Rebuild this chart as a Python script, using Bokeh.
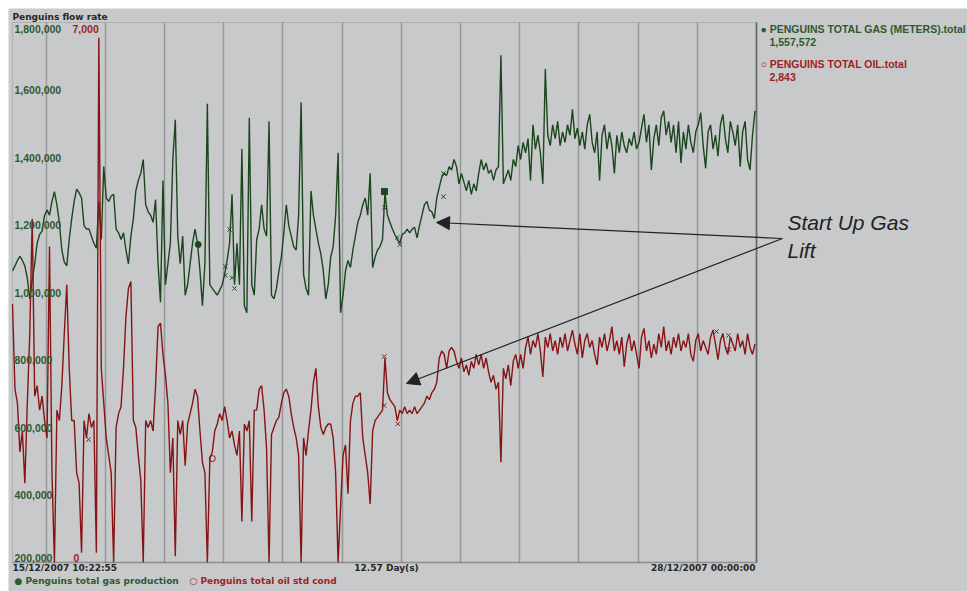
from datetime import datetime, timedelta
from bokeh.plotting import figure
from bokeh.models import Range1d, DaysTicker, Label, Arrow, NormalHead, BoxAnnotation
from bokeh.core.properties import value
from bokeh.embed import file_html
from bokeh.resources import INLINE

# ---------------- data ----------------
start_time = datetime(2007, 12, 15, 10, 22, 55)
end_time = datetime(2007, 12, 28, 0, 0, 0)
sample_hours = 1.0  # one reading per hour

# Penguins total gas (thousand m3/d), hourly
gas_k = [
    1064, 1079, 1095, 1107, 1095, 1079, 1043, 981, 1038, 1085,
    1146, 1172, 1182, 1229, 1244, 1229, 1270, 1299, 1260, 1208,
    1126, 1090, 1079, 1157, 1219, 1270, 1306, 1296, 1280, 1198,
    1188, 1188, 1167, 1146, 1131, 1270, 1157, 1373, 1280, 1270,
    1286, 1291, 1188, 1177, 1157, 1177, 1126, 1085, 1167, 1219,
    1301, 1332, 1353, 1394, 1260, 1239, 1229, 1208, 1275, 1085,
    971, 1332, 1023, 1085, 1146, 1394, 1512, 1167, 1085, 1167,
    992, 1023, 1085, 1146, 1188, 1146, 1064, 961, 1085, 1559,
    1023, 1012, 1002, 992, 1007, 1023, 1054, 1095, 1146, 1291,
    1023, 1146, 1023, 1425, 961, 940, 1518, 1023, 992, 1157,
    1188, 1260, 1188, 1167, 1507, 992, 981, 1012, 1064, 1105,
    1177, 1260, 1198, 1167, 1136, 1126, 1229, 1564, 1054, 1012,
    992, 1301, 1229, 1188, 1146, 1115, 1064, 981, 1023, 1105,
    1136, 1229, 1414, 940, 992, 1064, 1095, 1074, 1126, 1167,
    1208, 1229, 1260, 1280, 1229, 1353, 1074, 1105, 1126, 1136,
    1157, 1296, 1229, 1208, 1188, 1172, 1157, 1146, 1172, 1177,
    1188, 1177, 1188, 1193, 1162, 1198, 1229, 1260, 1270, 1244,
    1239, 1219, 1280, 1311, 1342, 1353, 1347, 1373, 1363, 1394,
    1373, 1322, 1353, 1327, 1301, 1332, 1291, 1322, 1301, 1353,
    1394, 1363, 1384, 1353, 1363, 1332, 1363, 1373, 1703, 1322,
    1342, 1363, 1332, 1394, 1373, 1435, 1394, 1445, 1414, 1456,
    1332, 1497, 1425, 1466, 1414, 1322, 1662, 1466, 1435, 1497,
    1456, 1507, 1435, 1476, 1445, 1497, 1466, 1543, 1456, 1487,
    1435, 1476, 1425, 1497, 1528, 1445, 1414, 1476, 1332, 1466,
    1497, 1425, 1476, 1435, 1353, 1466, 1414, 1476, 1435, 1414,
    1456, 1435, 1476, 1425, 1445, 1487, 1528, 1445, 1497, 1363,
    1456, 1497, 1435, 1518, 1538, 1466, 1507, 1445, 1497, 1414,
    1507, 1384, 1476, 1425, 1497, 1445, 1414, 1476, 1497, 1533,
    1435, 1368, 1476, 1497, 1425, 1466, 1404, 1497, 1528, 1456,
    1414, 1507, 1476, 1435, 1497, 1373, 1476, 1507, 1394, 1363,
    1466, 1538,
]

# Penguins total oil (std cond), hourly
oil = [
    3351, 2246, 2066, 1434, 1705, 1028, 2066, 2968, 4456, 2156,
    2291, 1975, 2156, 1840, 1615, 4095, 1164, 0, 1975, 1840,
    2291, 2968, 3599, 2517, 1840, 1840, 1164, 1028, 126, 1840,
    1615, 1930, 1750, 1840, 126, 6801, 2517, 2066, 1615, 1389,
    1164, 0, 1750, 1930, 2020, 2517, 3193, 3554, 3644, 1840,
    1750, 1389, 1073, 0, 1840, 1750, 1840, 1705, 2291, 3058,
    3103, 2697, 2426, 2066, 1164, 1615, 81, 1840, 1660, 1840,
    1254, 1795, 1930, 2066, 2246, 2156, 1705, 1299, 1164, 0,
    1344, 1434, 1705, 1795, 1930, 1840, 2020, 1840, 1615, 1705,
    1524, 1389, 1705, 532, 1795, 1705, 1840, 532, 1975, 1975,
    2246, 2291, 1975, 1479, 0, 1660, 1750, 1840, 1885, 2066,
    2201, 2246, 2156, 1930, 1750, 1615, 1389, 0, 1615, 1389,
    1705, 1975, 2336, 2517, 2020, 1750, 1660, 1750, 1795, 1795,
    1615, 1164, 0, 713, 1389, 1524, 893, 1840, 2066, 2156,
    2156, 2201, 1615, 1389, 1164, 758, 1705, 1840, 1885, 1930,
    1975, 2652, 2201, 2111, 2066, 2020, 1840, 1975, 1930, 2020,
    1930, 1975, 1930, 2020, 1930, 1975, 2020, 2066, 2156, 2111,
    2201, 2246, 2336, 2652, 2742, 2697, 2517, 2742, 2787, 2742,
    2607, 2517, 2652, 2471, 2562, 2426, 2607, 2517, 2697, 2562,
    2697, 2517, 2652, 2471, 2336, 2426, 2246, 2336, 1299, 2517,
    2381, 2562, 2291, 2607, 2697, 2517, 2697, 2517, 2787, 2922,
    2697, 2877, 2787, 2968, 2742, 2404, 2922, 2787, 2968, 2742,
    2877, 2697, 2922, 2787, 2968, 2742, 2877, 3013, 2832, 2697,
    2968, 2652, 2877, 2968, 2787, 2877, 2697, 2562, 2922, 2787,
    2968, 2742, 2877, 3058, 2742, 2877, 2697, 2922, 2539, 2832,
    2968, 2742, 2877, 2697, 2517, 2922, 3035, 2742, 2877, 2652,
    2832, 2697, 2968, 2787, 3058, 2742, 2877, 2697, 2922, 2787,
    2968, 2742, 2877, 2787, 2968, 2697, 2607, 2877, 2968, 2742,
    2877, 2787, 2697, 2922, 3013, 2832, 2629, 2877, 2968, 2787,
    2697, 2922, 2832, 2742, 2968, 2787, 2877, 2697, 2968, 2787,
    2697, 2832,
]

# event markers (hours since start, value)
gas_x_hours = [86.3, 86.3, 88.0, 89.0, 90.0, 150.8, 156.0, 157.0, 174.7, 174.7]
gas_x_vals = [1077000, 1050000, 1187000, 1044000, 1012000, 1252000, 1163000, 1142000, 1284000, 1353000]
gas_dot_hours = [75.3]
gas_dot_vals = [1142000]
gas_sq_hours = [150.8]
gas_sq_vals = [1299000]
oil_x_hours = [30.8, 150.7, 150.7, 156.2, 285.4, 290.3, 290.3]
oil_x_vals = [1594, 2670, 2035, 1798, 2994, 2943, 2761]
oil_ring_hours = [81.0]
oil_ring_vals = [1348]

gas_min, gas_max = 200000, 1800000
oil_min, oil_max = 0, 7000
gas_ticks = [200000, 400000, 600000, 800000, 1000000, 1200000, 1400000, 1600000, 1800000]
gas_tick_labels = ["200,000", "400,000", "600,000", "800,000", "1,000,000",
                   "1,200,000", "1,400,000", "1,600,000", "1,800,000"]
oil_ticks = [0, 7000]
oil_tick_labels = ["0", "7,000"]

title_text = "Penguins flow rate"
gas_name = "PENGUINS TOTAL GAS (METERS).total"
gas_current = "1,557,572"
oil_name = "PENGUINS TOTAL OIL.total"
oil_current = "2,843"
gas_desc = "Penguins total gas production"
oil_desc = "Penguins total oil std cond"
start_label = "15/12/2007 10:22:55"
span_label = "12.57 Day(s)"
end_label = "28/12/2007 00:00:00"
note_lines = ["Start Up Gas", "Lift"]

# ---------------- layout (page pixels) ----------------
W, H = 959, 583          # figure size, placed at page offset (8, 8)
PLOT_L, PLOT_R = 12, 756  # data area, page x
PLOT_T, PLOT_B = 22, 562  # data area, page y

EPOCH = datetime(1970, 1, 1)


def ms(dt):
    return (dt - EPOCH).total_seconds() * 1000.0


def at_hour(h):
    return ms(start_time + timedelta(hours=h))


t0 = ms(start_time)
t1 = ms(end_time)
total_h = (t1 - t0) / 3600000.0


def hour_at_px(x_px):
    return (x_px - PLOT_L) * total_h / (PLOT_R - PLOT_L)


def gas_at_px(y_px):
    return gas_max - (y_px - PLOT_T) * (gas_max - gas_min) / (PLOT_B - PLOT_T)


def oil_at_px(y_px):
    return oil_max - (y_px - PLOT_T) * (oil_max - oil_min) / (PLOT_B - PLOT_T)


gas_vals = [v * 1000 for v in gas_k]
gas_t = [at_hour(i * sample_hours) for i in range(len(gas_vals))]
oil_t = [at_hour(i * sample_hours) for i in range(len(oil))]

BG = "#c8c9cb"
GAS = "#1b461d"
OIL = "#861414"
GAS_TXT = "#2e5a2e"
OIL_TXT = "#9e1f1f"
INK = "#262626"
WIDE = "DejaVu Sans"
NARROW = "Liberation Sans"

p = figure(width=W, height=H, output_backend="svg", toolbar_location=None,
           x_axis_type="datetime",
           x_range=Range1d(at_hour(hour_at_px(8)), at_hour(hour_at_px(8 + W))),
           y_range=Range1d(gas_at_px(8 + H), gas_at_px(8)),
           min_border=0, margin=(8, 0, 0, 8),
           background_fill_color=BG, border_fill_color=BG, outline_line_color=None)
p.extra_y_ranges = {"oil": Range1d(oil_at_px(8 + H), oil_at_px(8))}
p.xaxis.visible = False
p.yaxis.visible = False
p.ygrid.visible = False
xg = p.xgrid[0]
xg.ticker = DaysTicker(days=list(range(1, 32)))
xg.grid_line_color = "#97989a"
xg.grid_line_width = 1.5
xg.bounds = (t0, t1)
has_cross = "cross_bounds" in xg.properties()
if has_cross:
    xg.cross_bounds = (gas_min, gas_max)

# data-area border
p.add_layout(BoxAnnotation(left=t0, right=t1, bottom=gas_min, top=gas_max, fill_alpha=0,
                           line_color="#747474", line_width=1, level="underlay"))
if not has_cross:
    p.add_layout(BoxAnnotation(bottom=gas_max, fill_color=BG, fill_alpha=1, line_alpha=0))
    p.add_layout(BoxAnnotation(top=gas_min, fill_color=BG, fill_alpha=1, line_alpha=0))
p.add_layout(BoxAnnotation(left=t1, right=t1, bottom=gas_min, top=gas_max, fill_alpha=0,
                           line_color="#161616", line_width=2))
p.add_layout(BoxAnnotation(left=t0, right=t1, bottom=gas_min, top=gas_min, fill_alpha=0,
                           line_color="#4e4e4e", line_width=2))

# series
p.line(gas_t, gas_vals, line_color=GAS, line_width=1.4)
p.line(oil_t, oil, line_color=OIL, line_width=1.4, y_range_name="oil")

p.scatter([at_hour(h) for h in gas_x_hours], gas_x_vals, marker="x", size=6,
          line_color=GAS, line_width=1)
p.scatter([at_hour(h) for h in gas_dot_hours], gas_dot_vals, marker="circle", size=6,
          line_color=GAS, fill_color=GAS)
p.scatter([at_hour(h) for h in gas_sq_hours], gas_sq_vals, marker="square", size=6,
          line_color=GAS, fill_color=GAS)
p.scatter([at_hour(h) for h in oil_x_hours], oil_x_vals, marker="x", size=6,
          line_color=OIL, line_width=1, y_range_name="oil")
p.scatter([at_hour(h) for h in oil_ring_hours], oil_ring_vals, marker="circle", size=6,
          line_color=OIL, fill_color=None, y_range_name="oil")

# tick labels inside the data area
tick_kw = dict(text_font=value(NARROW), text_font_style="bold", text_font_size="10.5px",
               text_align="left")
p.text(x=[t0], y=[gas_ticks[-1]], text=[gas_tick_labels[-1]], x_offset=2, y_offset=2,
       text_baseline="top", text_color=GAS_TXT, **tick_kw)
p.text(x=[t0] * (len(gas_ticks) - 2), y=gas_ticks[1:-1], text=gas_tick_labels[1:-1], x_offset=2,
       text_baseline="middle", text_color=GAS_TXT, **tick_kw)
p.text(x=[t0], y=[gas_ticks[0]], text=[gas_tick_labels[0]], x_offset=2, y_offset=-1,
       text_baseline="bottom", text_color=GAS_TXT, **tick_kw)
p.text(x=[t0], y=[oil_ticks[-1]], text=[oil_tick_labels[-1]], x_offset=60, y_offset=2,
       text_baseline="top", text_color=OIL_TXT, y_range_name="oil", **tick_kw)
p.text(x=[t0], y=[oil_ticks[0]], text=[oil_tick_labels[0]], x_offset=61, y_offset=-1,
       text_baseline="bottom", text_color=OIL_TXT, y_range_name="oil", **tick_kw)


def add_label(text, x_px, y_px, color=INK, size="9px", align="left", style="bold",
              font=WIDE):
    p.add_layout(Label(x=at_hour(hour_at_px(x_px)), y=gas_at_px(y_px), text=text,
                       text_font=font, text_font_style=style, text_font_size=size,
                       text_color=color, text_align=align, text_baseline="middle"))


add_label(title_text, 12, 16)
add_label("\u25cf " + gas_name, 760, 28, color=GAS_TXT, size="10.5px", font=NARROW)
add_label(gas_current, 769, 41, color=GAS_TXT, size="10.5px", font=NARROW)
add_label("\u25cb " + oil_name, 760, 63, color=OIL_TXT, size="10.5px", font=NARROW)
add_label(oil_current, 769, 76, color=OIL_TXT, size="10.5px", font=NARROW)
add_label(start_label, 12, 567)
add_label(span_label, 386, 567, align="center")
add_label(end_label, 755, 567, align="right")
add_label("\u25cf " + gas_desc, 14, 580, color=GAS_TXT)
add_label("\u25cb " + oil_desc, 189, 580, color=OIL_TXT)
add_label(note_lines[0], 787, 222, color="#222222", size="21px", style="italic", font=NARROW)
add_label(note_lines[1], 787, 250, color="#222222", size="21px", style="italic", font=NARROW)

# arrows from the note to the start-up points on both series
tail_x, tail_y = at_hour(hour_at_px(782)), gas_at_px(238)
for tip_h, tip_y in [(171.9, gas_at_px(222)), (159.7, gas_at_px(383))]:
    p.add_layout(Arrow(end=NormalHead(size=13, fill_color="#222222", line_color="#222222"),
                       x_start=tail_x, y_start=tail_y, x_end=at_hour(tip_h), y_end=tip_y,
                       line_color="#222222", line_width=1.2))

open("out.html", "w").write(file_html(p, INLINE))
